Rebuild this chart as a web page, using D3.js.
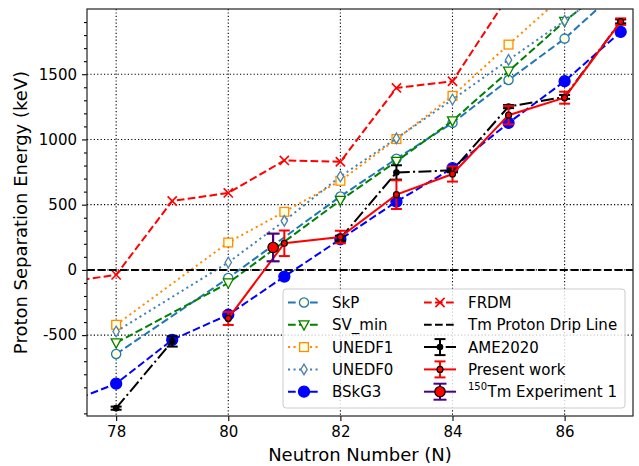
<!DOCTYPE html>
<html>
<head>
<meta charset="utf-8">
<script src="https://cdn.jsdelivr.net/npm/d3@7"></script>
<style>
body { margin: 0; background: #fff; }
text { font-family: "DejaVu Sans", sans-serif; }
</style>
</head>
<body>
<svg width="639" height="466"></svg>
<script>
// neutron numbers shared by the model curves
const N = [77, 78, 79, 80, 81, 82, 83, 84, 85, 86, 87];
const skp    = [null, -645, null, -62, null, 563, 852, 1127, 1456, 1773, 2160];
const svMin  = [null, -559, null, -100, null, 533, 832, 1143, 1523, 1905, 2250];
const unedf1 = [null, -421, null, 210, 445, 683, 1003, 1334, 1727, 2110, null];
const unedf0 = [null, -472, null, 57, 376, 716, 1008, 1306, 1610, 1910, 2230];
const bskg3  = [-1040, -872, -536, -344, -51, 235, 523, 780, 1127, 1446, 1824];
const frdm   = [-100, -38, 528, 590, 839, 829, 1395, 1446, 2100, null, null];

// measured values (null = no value, line breaks there)
const ameN   = [78, 79, 80, 81, 82, 83, 84, 85, 86, 87];
const ame    = [-1060, -548, null, null, 242, 747, 763, 1252, 1326, 1905];
const ameErr = [12, 40, null, null, 20, 55, 15, 12, 15, 15];

const presN   = [80, 81, 82, 83, 84, 85, 86, 87];
const pres    = [-372, 204, 252, 577, 735, 1186, 1320, 1903];
const presErr = [50, 98, 48, 110, 58, 70, 46, 25];

const expN = [80.8], expVal = [172], expErr = [106];

const xTicks = [78, 80, 82, 84, 86];
const yTicks = [-500, 0, 500, 1000, 1500];

var svg = d3.select("svg");
var pL = 87, pR = 633, pT = 9, pB = 416;
var x = d3.scaleLinear().domain([77.48, 87.22]).range([pL, pR]);
var y = d3.scaleLinear().domain([-1120, 2000]).range([pB, pT]);

svg.append("clipPath").attr("id", "clip").append("rect")
   .attr("x", pL).attr("y", pT).attr("width", pR - pL).attr("height", pB - pT);

// grid
var grid = svg.append("g");
xTicks.forEach(function(t) {
  grid.append("line").attr("x1", x(t)).attr("x2", x(t)).attr("y1", pT).attr("y2", pB)
      .attr("stroke", "#000").attr("stroke-width", 1.1).attr("stroke-dasharray", "1.2,2.2");
});
yTicks.forEach(function(t) {
  grid.append("line").attr("x1", pL).attr("x2", pR).attr("y1", y(t)).attr("y2", y(t))
      .attr("stroke", "#000").attr("stroke-width", 1.1).attr("stroke-dasharray", "1.2,2.2");
});

var plot = svg.append("g").attr("clip-path", "url(#clip)");

function pts(vals) {
  return N.map(function(n, i) { return [n, vals[i]]; }).filter(function(d) { return d[1] != null; });
}
var line = d3.line().x(function(d) { return x(d[0]); }).y(function(d) { return y(d[1]); });

var sym = {
  circle: function(g, r) { return g.append("circle").attr("r", r); },
  tri: function(g, r) { return g.append("path").attr("d", "M" + (-r) + "," + (-r * 0.8) + "L" + r + "," + (-r * 0.8) + "L0," + (r * 1.05) + "Z"); },
  square: function(g, r) { return g.append("rect").attr("x", -r).attr("y", -r).attr("width", 2 * r).attr("height", 2 * r); },
  diamond: function(g, r) { return g.append("path").attr("d", "M0," + (-r) + "L" + (r * 0.6) + ",0L0," + r + "L" + (-r * 0.6) + ",0Z"); },
  x: function(g, r) { return g.append("path").attr("d", "M" + (-r) + "," + (-r) + "L" + r + "," + r + "M" + (-r) + "," + r + "L" + r + "," + (-r)); }
};

var models = [
  {name: "SkP", vals: skp, color: "#1f77b4", dash: "7.7,3.3", marker: "circle", r: 4.6, fill: "lightyellow"},
  {name: "SV_min", vals: svMin, color: "green", dash: "7.7,3.3", marker: "tri", r: 5, fill: "lightyellow"},
  {name: "UNEDF1", vals: unedf1, color: "darkorange", dash: "2.1,3.4", marker: "square", r: 4.4, fill: "lightyellow"},
  {name: "UNEDF0", vals: unedf0, color: "steelblue", dash: "2.1,3.4", marker: "diamond", r: 5.3, fill: "lightyellow"},
  {name: "BSkG3", vals: bskg3, color: "blue", dash: "7.7,3.3", marker: "circle", r: 5.5, fill: "blue"},
  {name: "FRDM", vals: frdm, color: "red", dash: "7.7,3.3", marker: "x", r: 4.6, fill: "none"}
];

function drawMarker(g, m, cx, cy) {
  var s = sym[m.marker](g.append("g").attr("transform", "translate(" + cx + "," + cy + ")"), m.r);
  s.attr("fill", m.fill).attr("stroke", m.color).attr("stroke-width", m.marker == "x" ? 1.6 : 1.3);
}

models.forEach(function(m) {
  var d = pts(m.vals);
  plot.append("path").datum(d).attr("d", line).attr("fill", "none")
      .attr("stroke", m.color).attr("stroke-width", 2).attr("stroke-dasharray", m.dash);
  d.forEach(function(p) { drawMarker(plot, m, x(p[0]), y(p[1])); });
});

// drip line at zero
plot.append("line").attr("x1", pL).attr("x2", pR).attr("y1", y(0)).attr("y2", y(0))
    .attr("stroke", "#000").attr("stroke-width", 2).attr("stroke-dasharray", "7.7,3.3");

function errbars(g, ns, vals, errs, color, cap, lw) {
  ns.forEach(function(n, i) {
    if (vals[i] == null) return;
    var cx = x(n), y1 = y(vals[i] + errs[i]), y2 = y(vals[i] - errs[i]);
    g.append("line").attr("x1", cx).attr("x2", cx).attr("y1", y1).attr("y2", y2).attr("stroke", color).attr("stroke-width", lw);
    [y1, y2].forEach(function(yy) {
      g.append("line").attr("x1", cx - cap).attr("x2", cx + cap).attr("y1", yy).attr("y2", yy).attr("stroke", color).attr("stroke-width", lw);
    });
  });
}

// AME2020
var ameLine = d3.line().defined(function(d) { return d[1] != null; })
  .x(function(d) { return x(d[0]); }).y(function(d) { return y(d[1]); });
plot.append("path").datum(ameN.map(function(n, i) { return [n, ame[i]]; })).attr("d", ameLine)
    .attr("fill", "none").attr("stroke", "#000").attr("stroke-width", 2).attr("stroke-dasharray", "13,3.3,2.1,3.3");
errbars(plot, ameN, ame, ameErr, "#000", 5.5, 2);
ameN.forEach(function(n, i) {
  if (ame[i] == null) return;
  plot.append("circle").attr("cx", x(n)).attr("cy", y(ame[i])).attr("r", 3.3).attr("fill", "#000");
});

// present work
plot.append("path").datum(presN.map(function(n, i) { return [n, pres[i]]; })).attr("d", line)
    .attr("fill", "none").attr("stroke", "red").attr("stroke-width", 2);
errbars(plot, presN, pres, presErr, "red", 5.5, 2);
presN.forEach(function(n, i) {
  plot.append("circle").attr("cx", x(n)).attr("cy", y(pres[i])).attr("r", 3).attr("fill", "red")
      .attr("stroke", "#000").attr("stroke-width", 1.2);
});

// 150Tm experiment
errbars(plot, expN, expVal, expErr, "indigo", 6.5, 2.2);
expN.forEach(function(n, i) {
  plot.append("circle").attr("cx", x(n)).attr("cy", y(expVal[i])).attr("r", 5.2).attr("fill", "red")
      .attr("stroke", "#000").attr("stroke-width", 1.2);
});

// axes
var xAxis = svg.append("g").attr("transform", "translate(0," + pB + ")")
  .call(d3.axisBottom(x).tickValues(xTicks).tickSize(5).tickPadding(5).tickFormat(d3.format("d")));
var yAxis = svg.append("g").attr("transform", "translate(" + pL + ",0)")
  .call(d3.axisLeft(y).tickValues(yTicks).tickSize(5).tickPadding(5).tickFormat(function(d) { return String(d); }));
var minor = d3.range(-1100, 2000, 100).filter(function(v) { return v % 500 != 0; });
svg.append("g").attr("transform", "translate(" + pL + ",0)")
  .call(d3.axisLeft(y).tickValues(minor).tickSize(3).tickFormat(""))
  .select(".domain").remove();
[xAxis, yAxis].forEach(function(a) {
  a.select(".domain").remove();
  a.selectAll("text").attr("font-size", 15).attr("font-family", "DejaVu Sans").attr("fill", "#000");
});
svg.selectAll(".tick line").attr("stroke-width", 1.1);

svg.append("rect").attr("x", pL).attr("y", pT).attr("width", pR - pL).attr("height", pB - pT)
   .attr("fill", "none").attr("stroke", "#222").attr("stroke-width", 1.2);

svg.append("text").attr("x", (pL + pR) / 2).attr("y", 461).attr("text-anchor", "middle")
   .attr("font-size", 18).text("Neutron Number (N)");
svg.append("text").attr("transform", "translate(27," + (pT + pB) / 2 + ") rotate(-90)")
   .attr("text-anchor", "middle").attr("font-size", 18).text("Proton Separation Energy (keV)");

// legend
var lg = svg.append("g");
lg.append("rect").attr("x", 283).attr("y", 289).attr("width", 342).attr("height", 119).attr("rx", 3)
  .attr("fill", "#fff").attr("fill-opacity", 0.8).attr("stroke", "#ccc").attr("stroke-width", 1);
var rowY = function(i) { return 302.5 + i * 22.3; };
models.slice(0, 5).forEach(function(m, i) {
  var yy = rowY(i);
  lg.append("line").attr("x1", 288).attr("x2", 320).attr("y1", yy).attr("y2", yy)
    .attr("stroke", m.color).attr("stroke-width", 2).attr("stroke-dasharray", m.dash);
  drawMarker(lg, m, 304, yy);
  lg.append("text").attr("x", 332).attr("y", yy).attr("dy", "0.36em").attr("font-size", 15).text(m.name);
});
var c2 = 424, c2t = 468;
function legText(i) {
  return lg.append("text").attr("x", c2t).attr("y", rowY(i)).attr("dy", "0.36em").attr("font-size", 15);
}
// FRDM
lg.append("line").attr("x1", c2).attr("x2", c2 + 32).attr("y1", rowY(0)).attr("y2", rowY(0))
  .attr("stroke", "red").attr("stroke-width", 2).attr("stroke-dasharray", "7.7,3.3");
drawMarker(lg, models[5], c2 + 16, rowY(0));
legText(0).text("FRDM");
// drip line
lg.append("line").attr("x1", c2).attr("x2", c2 + 32).attr("y1", rowY(1)).attr("y2", rowY(1))
  .attr("stroke", "#000").attr("stroke-width", 2).attr("stroke-dasharray", "7.7,3.3");
legText(1).text("Tm Proton Drip Line");
function legErr(i, color, dash, cap, mk) {
  var yy = rowY(i), cx = c2 + 16;
  var l = lg.append("line").attr("x1", c2).attr("x2", c2 + 32).attr("y1", yy).attr("y2", yy)
    .attr("stroke", color).attr("stroke-width", 2);
  if (dash) l.attr("stroke-dasharray", dash);
  lg.append("line").attr("x1", cx).attr("x2", cx).attr("y1", yy - 8).attr("y2", yy + 8).attr("stroke", color).attr("stroke-width", 2);
  [yy - 8, yy + 8].forEach(function(v) {
    lg.append("line").attr("x1", cx - cap).attr("x2", cx + cap).attr("y1", v).attr("y2", v).attr("stroke", color).attr("stroke-width", 2);
  });
  mk(cx, yy);
}
legErr(2, "#000", "13,3.3,2.1,3.3", 5.5, function(cx, yy) {
  lg.append("circle").attr("cx", cx).attr("cy", yy).attr("r", 3.3).attr("fill", "#000");
});
legText(2).text("AME2020");
legErr(3, "red", null, 5.5, function(cx, yy) {
  lg.append("circle").attr("cx", cx).attr("cy", yy).attr("r", 3).attr("fill", "red").attr("stroke", "#000").attr("stroke-width", 1.2);
});
legText(3).text("Present work");
legErr(4, "indigo", null, 6.5, function(cx, yy) {
  lg.append("circle").attr("cx", cx).attr("cy", yy).attr("r", 5.2).attr("fill", "red").attr("stroke", "#000").attr("stroke-width", 1.2);
});
// superscript mass number drawn as its own small text so it sits tight
lg.append("text").attr("x", c2t).attr("y", rowY(4) - 1.5).attr("font-size", 10).text("150");
lg.append("text").attr("x", c2t + 19.5).attr("y", rowY(4)).attr("dy", "0.36em").attr("font-size", 15).text("Tm Experiment 1");
</script>
</body>
</html>
